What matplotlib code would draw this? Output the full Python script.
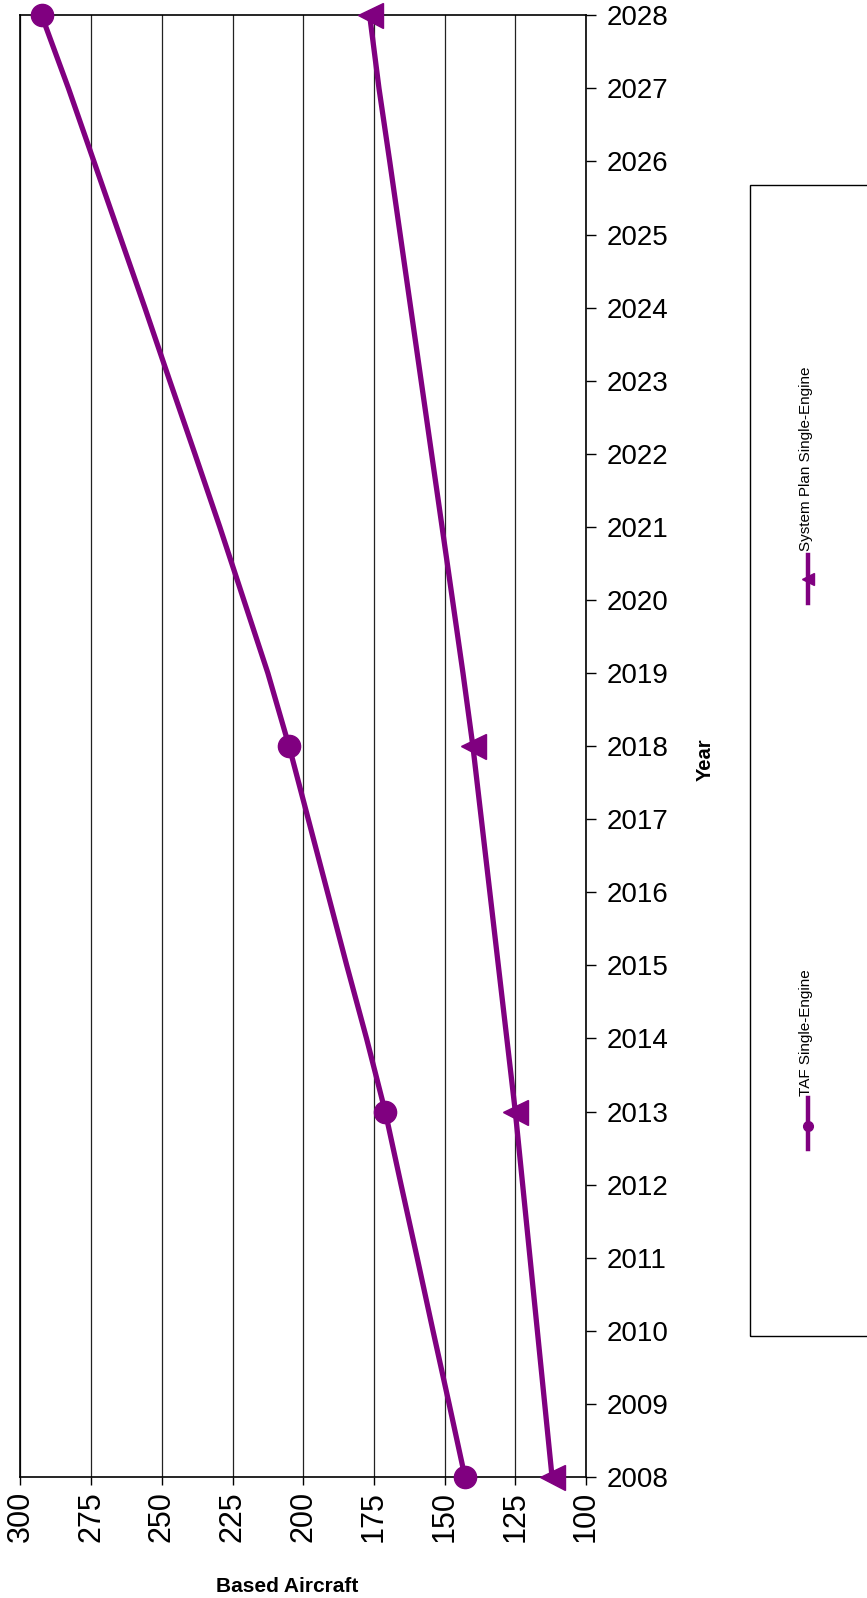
import matplotlib
matplotlib.use("Agg")
import matplotlib.pyplot as plt
from matplotlib.lines import Line2D
from matplotlib.patches import Rectangle

plt.rcParams['font.family'] = ['Liberation Sans', 'DejaVu Sans']

years = list(range(2008, 2029))
taf_single = [142.8, 148.4, 154.1, 159.7, 165.4, 171.0, 177.6, 184.6, 191.4, 198.2,
              205.0, 212.5, 221.0, 229.5, 238.3, 247.2, 256.0, 265.0, 274.0, 283.0, 292.5]
system_single = [112.0, 114.6, 117.2, 119.8, 122.4, 125.0, 128.0, 131.0, 134.0, 137.0,
                 140.0, 143.5, 147.2, 150.9, 154.6, 158.3, 162.0, 165.7, 169.4, 173.2, 176.5]
marker_years = [2008, 2013, 2018, 2028]
x_ticks = [300, 275, 250, 225, 200, 175, 150, 125, 100]
series_names = ["System Plan Single-Engine", "TAF Single-Engine"]

purple = '#800080'
W, H = 867, 1598
fig = plt.figure(figsize=(W / 100, H / 100), dpi=100)

left, right, top, bottom = 20.4, 586.0, 15.3, 1477.0
ax = fig.add_axes([left / W, (H - bottom) / H, (right - left) / W, (bottom - top) / H])

mk = [years.index(y) for y in marker_years]
ax.plot(taf_single, years, color=purple, lw=3.8, marker='o', markersize=16,
        markevery=mk, clip_on=False, zorder=5, solid_joinstyle='round')
ax.plot(system_single, years, color=purple, lw=3.8, marker='<', markersize=18,
        markevery=mk, clip_on=False, zorder=5, solid_joinstyle='round')

ax.set_xlim(300, 100)
ax.set_ylim(2008, 2028)
ax.set_xticks(x_ticks)
ax.set_xticklabels([str(v) for v in x_ticks], rotation=90, fontsize=22)
ax.set_yticks(years)
ax.set_yticklabels([str(y) for y in years], fontsize=20)
ax.yaxis.tick_right()
ax.tick_params(axis='x', direction='out', length=6, width=1, pad=4, colors='black')
ax.tick_params(axis='y', direction='out', length=7, width=1, pad=8, colors='black')
for ln in x_ticks:
    ax.axvline(ln, color='#222222', lw=0.9, zorder=1)
for s in ax.spines.values():
    s.set_linewidth(1.2)
    s.set_color('black')

fig.text(287 / W, 1 - 1587 / H, "Based Aircraft", fontsize=15, fontweight='bold',
         ha='center', va='center')
fig.text(705 / W, 1 - 760 / H, "Year", fontsize=14.5, fontweight='bold',
         rotation=90, ha='center', va='center')

# legend box (clipped at right figure edge)
fig.patches.append(Rectangle((750 / W, 1 - 1336 / H), 0.3, (1336 - 185) / H,
                             transform=fig.transFigure, fill=False,
                             edgecolor='black', lw=1.0, clip_on=False))

# legend entry: System Plan
x_leg = 808 / W
fig.add_artist(Line2D([x_leg, x_leg], [1 - 603 / H, 1 - 555 / H], color=purple, lw=3.2,
                      transform=fig.transFigure))
fig.add_artist(Line2D([x_leg], [1 - 579 / H], color=purple, marker='<', markersize=9,
                      transform=fig.transFigure))
fig.text(806 / W, 1 - 551 / H, series_names[0], fontsize=11, rotation=90,
         ha='center', va='bottom')

# legend entry: TAF
fig.add_artist(Line2D([x_leg, x_leg], [1 - 1149 / H, 1 - 1098 / H], color=purple, lw=3.2,
                      transform=fig.transFigure))
fig.add_artist(Line2D([x_leg], [1 - 1126 / H], color=purple, marker='o', markersize=7,
                      transform=fig.transFigure))
fig.text(806 / W, 1 - 1096 / H, series_names[1], fontsize=11, rotation=90,
         ha='center', va='bottom')

fig.savefig("out.png", dpi=100)
